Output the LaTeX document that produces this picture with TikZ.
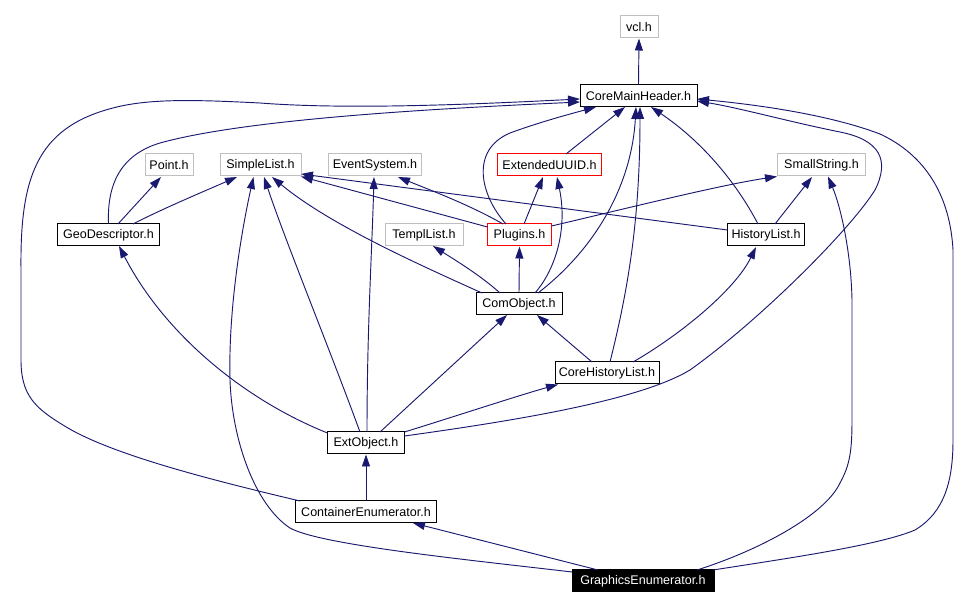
\documentclass[tikz,border=0pt]{standalone}
\usepackage{fontspec}
\setmainfont{Liberation Sans}
\usetikzlibrary{arrows.meta,calc}
\definecolor{edgeblue}{HTML}{191970}
\definecolor{boxgray}{HTML}{BFBFBF}
\begin{document}
\begin{tikzpicture}[x=0.75pt,y=-0.75pt,
  filebox/.style={draw=black,line width=0.75pt,fill=white,inner sep=0pt,minimum height=16.5pt,font=\fontsize{9.4pt}{11pt}\selectfont},
  bw/.style={minimum width=#1*0.75pt},
  greybox/.style={filebox,draw=boxgray},
  redbox/.style={filebox,draw=red},
  darkbox/.style={filebox,fill=black,text=white},
  edge/.style={draw=edgeblue,line width=0.7pt,-{Triangle[length=9pt,width=6pt]}}
]
\useasboundingbox[fill=white] (0,0) rectangle (972,609);

% nodes
\node[greybox,bw=38]  (vcl)   at (639,27)    {vcl.h};
\node[filebox,bw=117] (cmh)   at (638.5,96)  {CoreMainHeader.h};
\node[greybox,bw=48]  (point) at (169,165)   {Point.h};
\node[greybox,bw=81]  (slist) at (260.5,165) {SimpleList.h};
\node[greybox,bw=93]  (evsys) at (375,165)   {EventSystem.h};
\node[redbox,bw=104]  (euuid) at (549.5,165) {ExtendedUUID.h};
\node[greybox,bw=88]  (sstr)  at (821.5,165) {SmallString.h};
\node[filebox,bw=102] (geo)   at (108.5,235) {GeoDescriptor.h};
\node[greybox,bw=78]  (tmpl)  at (424,235)   {TemplList.h};
\node[redbox,bw=64]   (plug)  at (519.5,235) {Plugins.h};
\node[filebox,bw=77]  (hist)  at (766,235)   {HistoryList.h};
\node[filebox,bw=86]  (com)   at (519,304)   {ComObject.h};
\node[filebox,bw=104] (chl)   at (607,373)   {CoreHistoryList.h};
\node[filebox,bw=77]  (ext)   at (366,443)   {ExtObject.h};
\node[filebox,bw=141] (cont)  at (366,512)   {ContainerEnumerator.h};
\node[darkbox,bw=142] (gfx)   at (643,581)   {GraphicsEnumerator.h};

% edges
\draw[edge] (cmh.north) -- (vcl.south);
\draw[edge] (geo.north) .. controls (107,185) and (120,155) .. (160,143)
  .. controls (250,118) and (450,108) .. ($(cmh)+(-58.5,6)$);
\draw[edge] ($(cont)+(-66,-11)$) .. controls (220,482) and (110,455) .. (63,425)
  .. controls (35,408) and (21,395) .. (21,360) -- (21,270)
  .. controls (20,180) and (35,128) .. (113,108)
  .. controls (150,98) and (200,100) .. (260,103)
  .. controls (350,110) and (480,104) .. ($(cmh)+(-58.5,3)$);
\draw[edge] ($(ext)+(38.5,-7)$) .. controls (520,420) and (640,400) .. (690,370)
  .. controls (760,320) and (850,230) .. (875,190)
  .. controls (890,160) and (880,140) .. (840,132)
  .. controls (790,122) and (740,108) .. ($(cmh)+(58.5,5)$);
\draw[edge] ($(gfx)+(70,-11)$) .. controls (790,558) and (880,545) .. (915,530)
  .. controls (945,512) and (953,480) .. (953,440) -- (953,250)
  .. controls (950,195) and (925,155) .. (880,134)
  .. controls (830,115) and (760,105) .. ($(cmh)+(58.5,3)$);
\draw[edge] ($(gfx)+(54,-11)$) .. controls (760,550) and (825,515) .. (840,483)
  .. controls (850,465) and (852,450) .. (852,420) -- (852,300)
  .. controls (851,250) and (840,205) .. ($(sstr)+(6.5,11.5)$);
\draw[edge] ($(gfx)+(-71,-9)$) .. controls (470,560) and (320,545) .. (290,528)
  .. controls (255,505) and (232,440) .. (230,380)
  .. controls (228,300) and (245,215) .. ($(slist)+(-7,12)$);
\draw[edge] ($(gfx)+(-45,-11)$) -- ($(cont)+(47,11)$);
\draw[edge] (cont.north) -- (ext.south);
\draw[edge] ($(ext)+(-38.5,-10)$) .. controls (245,400) and (165,335) .. ($(geo)+(10.5,11)$);
\draw[edge] ($(ext)+(-6,-11)$) .. controls (330,350) and (285,240) .. ($(slist)+(3.5,12)$);
\draw[edge] ($(ext)+(1,-11)$) .. controls (367,330) and (372,250) .. ($(evsys)+(-1,12)$);
\draw[edge] ($(ext)+(14,-11)$) -- ($(com)+(-12,11)$);
\draw[edge] ($(ext)+(38.5,-11)$) .. controls (450,418) and (520,395) .. ($(chl)+(-49,11.5)$);
\draw[edge] ($(com)+(-37,-11)$) .. controls (420,265) and (330,225) .. ($(slist)+(11.5,12)$);
\draw[edge] ($(com)+(-19,-11)$) .. controls (480,275) and (455,260) .. ($(tmpl)+(9,11)$);
\draw[edge] (com.north) -- (plug.south);
\draw[edge] ($(com)+(16,-11)$) .. controls (555,270) and (568,230) .. ($(euuid)+(7.5,12)$);
\draw[edge] ($(com)+(19,-11)$) .. controls (600,245) and (632,180) .. ($(cmh)+(-2.5,11)$);
\draw[edge] ($(chl)+(-15,-11)$) -- ($(com)+(18,11)$);
\draw[edge] ($(chl)+(26,-11)$) .. controls (680,335) and (735,290) .. ($(hist)+(-10,12)$);
\draw[edge] ($(chl)+(3,-11)$) .. controls (628,290) and (640,220) .. ($(cmh)+(1.5,11)$);
\draw[edge] ($(plug)+(-13.5,-11)$) .. controls (480,195) and (470,150) .. (510,133)
  .. controls (540,122) and (570,114) .. ($(cmh)+(-42.5,11)$);
\draw[edge] ($(plug)+(-32,-8)$) -- ($(slist)+(40.5,11.5)$);
\draw[edge] ($(plug)+(-16.5,-11)$) .. controls (470,205) and (430,190) .. ($(evsys)+(23,12)$);
\draw[edge] ($(plug)+(4.5,-11)$) -- ($(euuid)+(-6.5,12)$);
\draw[edge] ($(plug)+(32,-9)$) .. controls (620,210) and (720,185) .. ($(sstr)+(-44.5,11.5)$);
\draw[edge] ($(euuid)+(16.5,-11)$) -- ($(cmh)+(-13.5,11)$);
\draw[edge] ($(hist)+(-8,-11)$) .. controls (735,180) and (700,140) .. ($(cmh)+(12.5,11)$);
\draw[edge] ($(hist)+(-38.5,-5)$) -- ($(slist)+(40.5,9)$);
\draw[edge] ($(hist)+(9,-11)$) -- ($(sstr)+(-9.5,12)$);
\draw[edge] ($(geo)+(9.5,-11)$) -- ($(point)+(-8,12)$);
\draw[edge] ($(geo)+(24.5,-11)$) .. controls (160,210) and (200,193) .. ($(slist)+(-23.5,12)$);
\end{tikzpicture}
\end{document}
